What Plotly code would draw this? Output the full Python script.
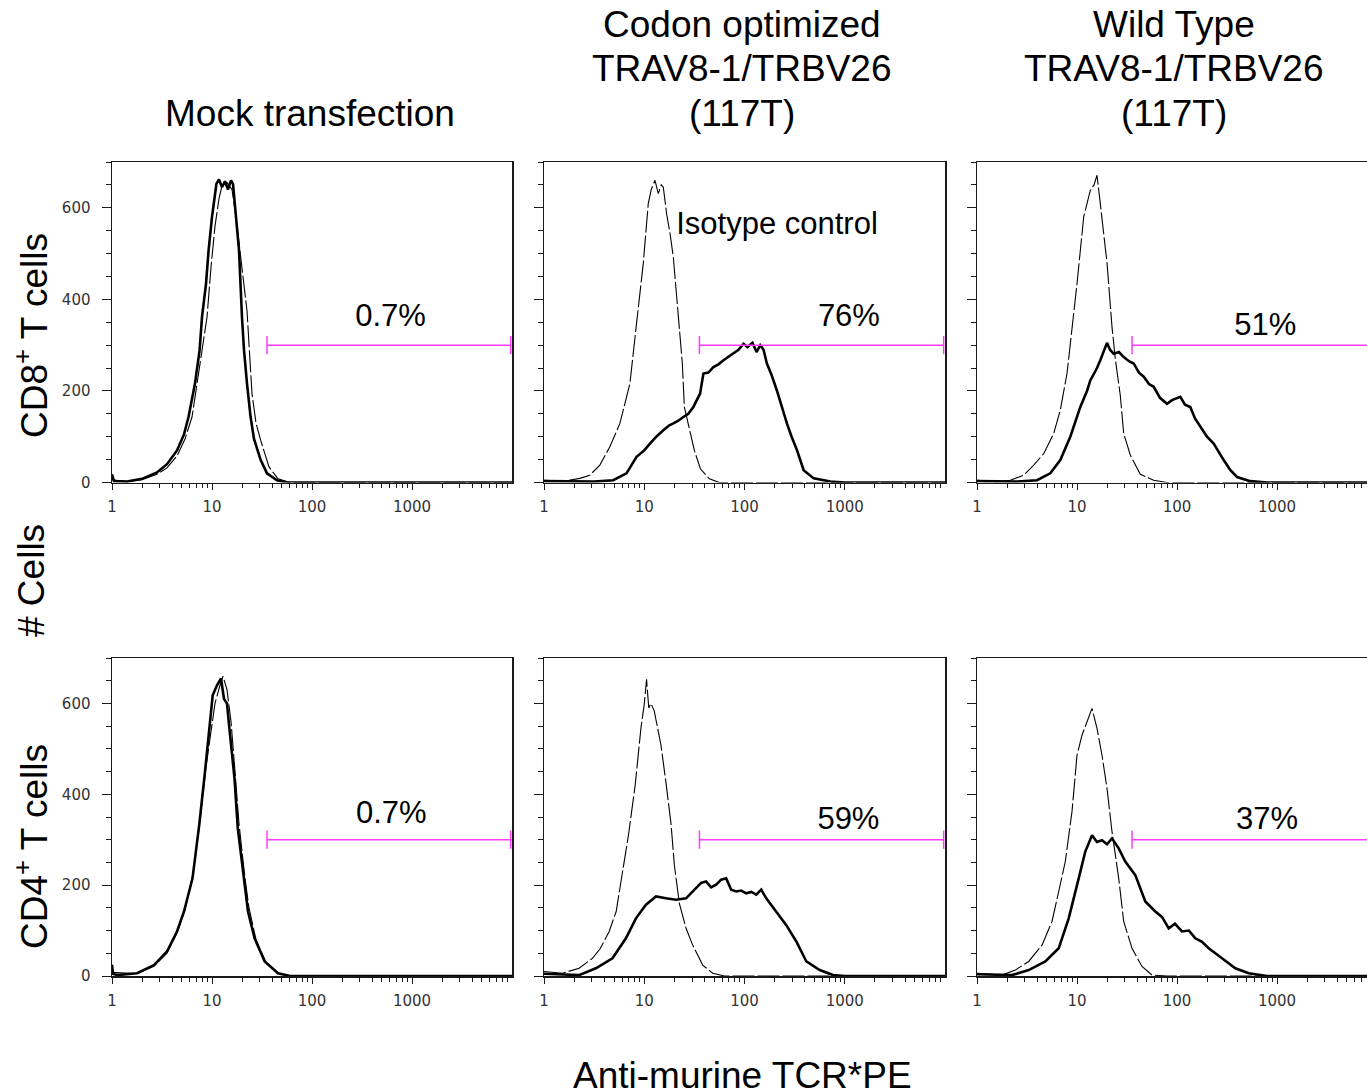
import plotly.graph_objects as go

# ---------------- data (x given as log10 of fluorescence, y = # cells) ----------------
col_titles = [["Mock transfection"],
              ["Codon optimized", "TRAV8-1/TRBV26", "(117T)"],
              ["Wild Type", "TRAV8-1/TRBV26", "(117T)"]]
row_titles = ["CD8<sup>+</sup> T cells", "CD4<sup>+</sup> T cells"]
y_title = "# Cells"
x_title = "Anti-murine TCR*PE"
x_tick_vals = [1, 10, 100, 1000]
x_tick_text = ["1", "10", "100", "1000"]
y_tick_vals = [0, 200, 400, 600]
y_tick_text = ["0", "200", "400", "600"]
percent_labels = ["0.7%", "76%", "51%", "0.7%", "59%", "37%"]
percent_pos_x = [610, 1100, 764, 620, 1088, 794]
percent_pos_y = [358, 358, 340, 353, 340, 340]
gate_lo, gate_hi, gate_y = 35.5, 9700, 300
isotype_label = "Isotype control"
isotype_label_x, isotype_label_y = 211, 559

# CD8 mock
cd8_mock_iso_x = [0, 0.15, 0.3, 0.45, 0.55, 0.65, 0.73, 0.8, 0.86, 0.92, 0.95, 0.99, 1.03, 1.07, 1.1, 1.15, 1.2, 1.24, 1.28, 1.31, 1.35, 1.40, 1.44, 1.487, 1.57, 1.66, 1.78, 4.0]
cd8_mock_iso_y = [6, 2, 6, 18, 32, 58, 95, 143, 230, 320, 361, 470, 560, 620, 648, 655, 640, 580, 500, 440, 375, 194, 130, 92, 34, 8, 0, 0]
cd8_mock_tcr_x = [0, 0.02, 0.15, 0.3, 0.45, 0.55, 0.65, 0.72, 0.765, 0.83, 0.876, 0.9, 0.94, 0.966, 1.0, 1.044, 1.07, 1.1, 1.13, 1.16, 1.19, 1.21, 1.24, 1.27, 1.3, 1.32, 1.35, 1.386, 1.42, 1.487, 1.55, 1.65, 1.75, 4.0]
cd8_mock_tcr_y = [18, 3, 2, 8, 22, 40, 70, 105, 143, 216, 289, 361, 434, 507, 580, 652, 662, 645, 658, 640, 660, 652, 580, 507, 361, 289, 216, 143, 95, 49, 20, 5, 0, 0]

# CD8 codon optimized
cd8_opt_iso_x = [0, 0.2, 0.357, 0.457, 0.557, 0.657, 0.757, 0.857, 0.923, 0.99, 1.04, 1.07, 1.107, 1.14, 1.17, 1.19, 1.223, 1.26, 1.29, 1.34, 1.38, 1.40, 1.45, 1.5, 1.56, 1.65, 1.75, 4.0]
cd8_opt_iso_y = [5, 3, 9, 16, 38, 78, 129, 216, 347, 478, 609, 640, 660, 631, 650, 645, 587, 540, 492, 370, 260, 165, 115, 70, 30, 8, 0, 0]
cd8_opt_tcr_x = [0, 0.5, 0.69, 0.823, 0.923, 1.0, 1.057, 1.12, 1.19, 1.25, 1.29, 1.34, 1.39, 1.44, 1.49, 1.557, 1.59, 1.64, 1.69, 1.74, 1.79, 1.84, 1.89, 1.94, 1.99, 2.03, 2.08, 2.12, 2.157, 2.19, 2.223, 2.27, 2.323, 2.37, 2.423, 2.47, 2.523, 2.59, 2.69, 2.857, 3.0, 4.0]
cd8_opt_tcr_y = [3, 2, 5, 20, 56, 70, 85, 100, 114, 125, 129, 135, 143, 150, 165, 194, 238, 240, 252, 258, 267, 275, 281, 290, 303, 296, 305, 285, 300, 290, 260, 235, 201, 165, 129, 100, 71, 27, 9, 2, 0, 0]

# CD8 wild type
cd8_wt_iso_x = [0, 0.2, 0.333, 0.467, 0.567, 0.667, 0.767, 0.833, 0.9, 0.967, 1.0, 1.067, 1.133, 1.17, 1.2, 1.233, 1.267, 1.3, 1.35, 1.383, 1.433, 1.467, 1.533, 1.633, 1.767, 1.9, 4.0]
cd8_wt_iso_y = [5, 2, 5, 16, 38, 63, 107, 158, 238, 361, 434, 580, 638, 650, 671, 609, 545, 480, 340, 270, 190, 107, 60, 18, 5, 0, 0]
cd8_wt_tcr_x = [0, 0.4, 0.6, 0.733, 0.833, 0.933, 1.033, 1.1, 1.133, 1.2, 1.233, 1.27, 1.3, 1.33, 1.367, 1.42, 1.467, 1.52, 1.567, 1.62, 1.667, 1.72, 1.767, 1.83, 1.9, 1.95, 2.033, 2.08, 2.133, 2.18, 2.233, 2.3, 2.367, 2.42, 2.467, 2.53, 2.6, 2.733, 2.9, 4.0]
cd8_wt_tcr_y = [3, 2, 5, 20, 49, 100, 165, 200, 223, 250, 267, 290, 305, 290, 281, 285, 274, 265, 260, 240, 231, 215, 209, 185, 172, 180, 187, 170, 165, 140, 121, 100, 85, 65, 49, 28, 12, 3, 0, 0]

# CD4 mock
cd4_mock_iso_x = [0, 0.25, 0.42, 0.55, 0.65, 0.73, 0.81, 0.88, 0.94, 0.99, 1.03, 1.08, 1.11, 1.15, 1.19, 1.23, 1.27, 1.33, 1.37, 1.44, 1.54, 1.67, 1.8, 4.0]
cd4_mock_iso_y = [8, 5, 22, 50, 95, 145, 225, 340, 460, 540, 600, 640, 660, 630, 560, 450, 335, 215, 150, 80, 30, 5, 0, 0]
cd4_mock_tcr_x = [0, 0.01, 0.05, 0.25, 0.42, 0.55, 0.65, 0.72, 0.805, 0.872, 0.93, 0.973, 1.007, 1.05, 1.09, 1.12, 1.15, 1.174, 1.225, 1.258, 1.32, 1.36, 1.426, 1.527, 1.66, 1.78, 4.0]
cd4_mock_tcr_y = [25, 5, 2, 6, 24, 54, 98, 142, 215, 332, 450, 545, 618, 640, 655, 610, 600, 545, 435, 325, 215, 142, 83, 32, 6, 0, 0]

# CD4 codon optimized
cd4_opt_iso_x = [0, 0.183, 0.35, 0.483, 0.56, 0.65, 0.72, 0.783, 0.843, 0.91, 0.967, 1.0, 1.023, 1.045, 1.067, 1.1, 1.167, 1.217, 1.267, 1.3, 1.35, 1.417, 1.483, 1.583, 1.683, 1.8, 4.0]
cd4_opt_iso_y = [10, 6, 17, 39, 60, 98, 142, 230, 311, 421, 546, 598, 653, 590, 600, 583, 508, 425, 335, 245, 160, 105, 68, 24, 6, 0, 0]
cd4_opt_tcr_x = [0, 0.35, 0.517, 0.683, 0.817, 0.917, 1.017, 1.117, 1.217, 1.317, 1.417, 1.517, 1.567, 1.617, 1.667, 1.717, 1.767, 1.817, 1.867, 1.917, 1.967, 2.017, 2.067, 2.117, 2.167, 2.217, 2.317, 2.417, 2.517, 2.617, 2.75, 2.883, 3.0, 4.0]
cd4_opt_tcr_y = [5, 2, 17, 39, 83, 127, 157, 175, 171, 168, 171, 193, 205, 208, 195, 201, 212, 215, 190, 186, 188, 182, 185, 179, 190, 171, 142, 112, 76, 32, 13, 2, 0, 0]

# CD4 wild type
cd4_wt_iso_x = [0, 0.25, 0.383, 0.517, 0.65, 0.75, 0.817, 0.883, 0.95, 1.0, 1.05, 1.1, 1.15, 1.2, 1.25, 1.3, 1.35, 1.417, 1.467, 1.55, 1.65, 1.75, 1.9, 4.0]
cd4_wt_iso_y = [6, 2, 13, 32, 68, 120, 186, 252, 362, 486, 530, 560, 589, 545, 486, 413, 318, 215, 120, 61, 21, 2, 0, 0]
cd4_wt_tcr_x = [0, 0.35, 0.517, 0.683, 0.817, 0.917, 1.017, 1.083, 1.15, 1.2, 1.25, 1.3, 1.35, 1.417, 1.483, 1.583, 1.683, 1.783, 1.85, 1.917, 1.98, 2.05, 2.12, 2.183, 2.25, 2.317, 2.45, 2.583, 2.717, 2.9, 4.0]
cd4_wt_tcr_y = [4, 2, 13, 32, 61, 127, 215, 274, 310, 295, 299, 290, 303, 281, 252, 222, 164, 142, 130, 105, 115, 98, 100, 83, 75, 61, 39, 17, 6, 0, 0]

panels = [
    (cd8_mock_iso_x, cd8_mock_iso_y, cd8_mock_tcr_x, cd8_mock_tcr_y),
    (cd8_opt_iso_x, cd8_opt_iso_y, cd8_opt_tcr_x, cd8_opt_tcr_y),
    (cd8_wt_iso_x, cd8_wt_iso_y, cd8_wt_tcr_x, cd8_wt_tcr_y),
    (cd4_mock_iso_x, cd4_mock_iso_y, cd4_mock_tcr_x, cd4_mock_tcr_y),
    (cd4_opt_iso_x, cd4_opt_iso_y, cd4_opt_tcr_x, cd4_opt_tcr_y),
    (cd4_wt_iso_x, cd4_wt_iso_y, cd4_wt_tcr_x, cd4_wt_tcr_y),
]

# ---------------- layout geometry (pixels) ----------------
W, H = 1367, 1088
cols_px = [(112, 512), (544, 945), (977, 1367)]
rows_px = [(162, 482.5), (658, 976)]
x_ranges = [[0, 4], [0, 4], [0, 3.9]]
LINE = "#1a1a1a"
MAGENTA = "#ff3cff"
TITLE_FONT = "Liberation Sans, Arial, sans-serif"
TICK_FONT = dict(family="DejaVu Sans, Verdana, sans-serif", size=15, color="#333333")

minor_x = [d * 10 ** k for k in range(4) for d in range(2, 10)]

fig = go.Figure()
layout = dict(width=W, height=H, margin=dict(l=0, r=0, t=0, b=0, pad=0, autoexpand=False),
              autosize=False, paper_bgcolor="white", plot_bgcolor="white", showlegend=False)

for i, (ix, iy, tx, ty) in enumerate(panels):
    r, c = divmod(i, 3)
    n = "" if i == 0 else str(i + 1)
    xa, ya = "x" + n, "y" + n
    x0, x1 = cols_px[c]
    y0, y1 = rows_px[r]
    layout["xaxis" + n] = dict(
        type="log", range=x_ranges[c], domain=[x0 / W, x1 / W], anchor=ya,
        automargin=False,
        showline=True, mirror=True, linecolor=LINE, linewidth=1.5,
        ticks="outside", ticklen=6, tickwidth=1, tickcolor=LINE,
        tickvals=x_tick_vals, ticktext=x_tick_text, tickfont=TICK_FONT,
        ticklabelstandoff=4,
        minor=dict(tickvals=minor_x, ticks="outside", ticklen=4, tickwidth=1, tickcolor=LINE),
        showgrid=False, zeroline=False, fixedrange=True)
    layout["yaxis" + n] = dict(
        range=[0, 700], domain=[1 - y1 / H, 1 - y0 / H], anchor=xa,
        automargin=False,
        showline=True, mirror=(c < 2), linecolor=LINE, linewidth=1.5,
        ticks="outside", ticklen=9, tickwidth=1, tickcolor=LINE,
        tickvals=y_tick_vals, ticktext=y_tick_text, tickfont=TICK_FONT,
        showticklabels=(c == 0), ticklabelstandoff=8,
        minor=dict(dtick=50, tick0=0, ticks="outside", ticklen=5, tickwidth=1, tickcolor=LINE),
        showgrid=False, zeroline=False, fixedrange=True)

    # isotype control (thin, broken line)
    fig.add_trace(go.Scatter(x=[10 ** v for v in ix], y=iy, mode="lines",
                             line=dict(color="black", width=1.1, dash="22px,3px"),
                             xaxis=xa, yaxis=ya, hoverinfo="skip"))
    # TCR stained sample (thick line)
    fig.add_trace(go.Scatter(x=[10 ** v for v in tx], y=ty, mode="lines",
                             line=dict(color="black", width=2.6),
                             xaxis=xa, yaxis=ya, hoverinfo="skip"))
    # gate
    fig.add_trace(go.Scatter(x=[gate_lo, gate_hi], y=[gate_y, gate_y], mode="lines+markers",
                             line=dict(color=MAGENTA, width=1.5),
                             marker=dict(symbol="line-ns-open", size=13,
                                         line=dict(color=MAGENTA, width=1.5)),
                             xaxis=xa, yaxis=ya, hoverinfo="skip"))
    # percentage
    fig.add_trace(go.Scatter(x=[percent_pos_x[i]], y=[percent_pos_y[i]], mode="text",
                             text=[percent_labels[i]], textposition="middle center",
                             textfont=dict(family=TITLE_FONT, size=31, color="black"),
                             xaxis=xa, yaxis=ya, hoverinfo="skip"))

# isotype control label (top middle panel)
fig.add_trace(go.Scatter(x=[isotype_label_x], y=[isotype_label_y], mode="text",
                         text=[isotype_label], textposition="middle center",
                         textfont=dict(family=TITLE_FONT, size=31, color="black"),
                         xaxis="x2", yaxis="y2", hoverinfo="skip"))

fig.update_layout(**layout)

ann = []
title_cx = [310, 742, 1174]
for c, lines in enumerate(col_titles):
    ys = [113] if len(lines) == 1 else [24, 68, 113]
    for t, yy in zip(lines, ys):
        ann.append(dict(text=t, x=title_cx[c] / W, y=1 - yy / H, xref="paper", yref="paper",
                        xanchor="center", yanchor="middle", showarrow=False,
                        font=dict(family=TITLE_FONT, size=37, color="black")))
for txt, yy in [(row_titles[0], 336), (y_title, 581), (row_titles[1], 847)]:
    ann.append(dict(text=txt, x=31 / W, y=1 - yy / H, xref="paper", yref="paper",
                    xanchor="center", yanchor="middle", textangle=-90, showarrow=False,
                    font=dict(family=TITLE_FONT, size=37, color="black")))
ann.append(dict(text=x_title, x=742 / W, y=1 - 1075 / H, xref="paper", yref="paper",
                xanchor="center", yanchor="middle", showarrow=False,
                font=dict(family=TITLE_FONT, size=37, color="black")))
fig.update_layout(annotations=ann)

fig.write_html("out.html",
               config={"displayModeBar": False, "responsive": False, "staticPlot": True},
               post_script="document.body.style.margin='0';document.body.style.padding='0';"
                           "document.body.style.overflow='hidden';"
                           "document.documentElement.style.overflow='hidden';")
